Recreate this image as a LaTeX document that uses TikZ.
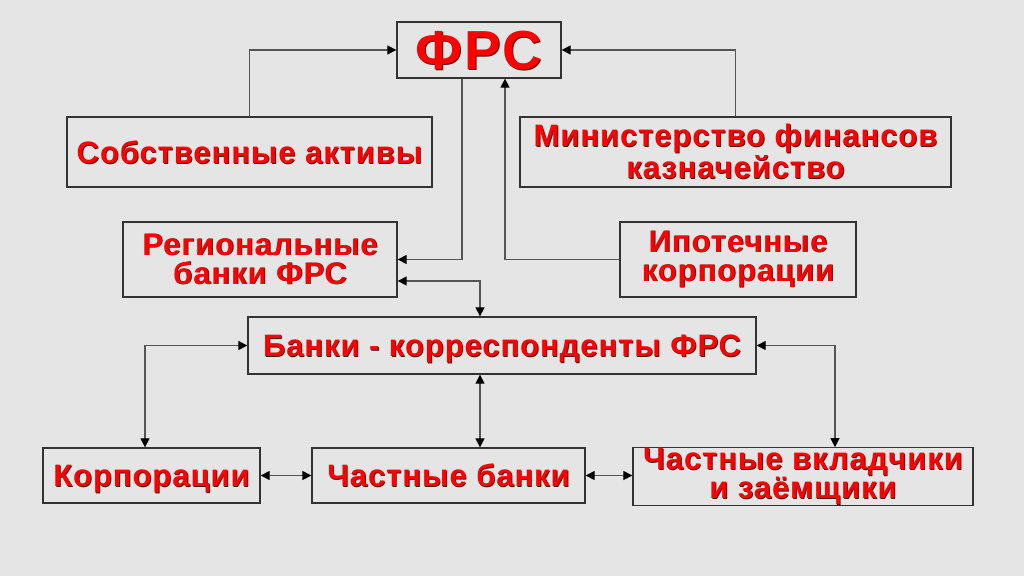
\documentclass[tikz,border=0pt]{standalone}
\usepackage{fontspec}
\setmainfont{Liberation Sans}[LetterSpace=3]
\usepackage{tikz}
\usetikzlibrary{arrows.meta}
\definecolor{bggray}{RGB}{229,229,229}
\definecolor{framec}{RGB}{51,51,51}
\definecolor{linec}{RGB}{85,85,85}
\definecolor{textred}{RGB}{255,0,0}
\definecolor{shadowc}{RGB}{80,20,20}
\newcommand{\sh}[1]{\rlap{\kern0.9pt\raisebox{-0.9pt}{\color{shadowc}#1}}#1}

\begin{document}
\begin{tikzpicture}[x=1pt, y=-1pt,
  box/.style={draw=framec, line width=1.3pt, fill=bggray, inner sep=0pt,
    align=center, text=textred, font={\fontsize{31}{29}\selectfont\bfseries}},
  oneline/.style={box, text depth=0pt},
  conn/.style={linec, line width=1.2pt, -{Triangle[length=9pt, width=9pt, color=black]}},
  dconn/.style={linec, line width=1.2pt,
    {Triangle[length=9pt, width=9pt, color=black]}-{Triangle[length=9pt, width=9pt, color=black]}}]

  % Background
  \fill[bggray] (0,0) rectangle (1024,576);

  % Top level
  \node[oneline, minimum width=164pt, minimum height=56pt,
    font={\fontsize{55}{55}\selectfont\bfseries\addfontfeature{LetterSpace=4}}]
    (frs) at (479,50) {\sh{ФРС}};
  \node[oneline, minimum width=365pt, minimum height=70pt] (own) at (249.5,152)
    {\sh{Собственные активы}};
  \node[box, minimum width=431pt, minimum height=70pt] (minfin) at (735.5,152)
    {\sh{Министерство финансов}\\\sh{казначейство}};

  % Second level
  \node[box, minimum width=274pt, minimum height=75pt] (reg) at (260,259.5)
    {\sh{Региональные}\\\sh{банки ФРС}};
  \node[box, minimum width=236pt, minimum height=75pt] (ipo) at (738,259.5)
    {\sh{Ипотечные}\\\sh{корпорации}};
  \node[oneline, minimum width=508pt, minimum height=57pt] (corr) at (502,345.5)
    {\sh{Банки - корреспонденты ФРС}};

  % Bottom row
  \node[oneline, minimum width=217pt, minimum height=55pt] (corp) at (151.5,475.5)
    {\sh{Корпорации}};
  \node[oneline, minimum width=273pt, minimum height=55pt] (pbank) at (448.5,475.5)
    {\sh{Частные банки}};
  \node[box, minimum width=340pt, minimum height=57pt] (dep) at (803,476.5)
    {\sh{Частные вкладчики}\\\sh{и заёмщики}};

  % Links to the FRS
  \draw[conn] (own.north) |- (frs.west);
  \draw[conn] (minfin.north) |- (frs.east);
  \draw[conn] ([xshift=-17pt]frs.south) |- (reg.east);
  \draw[conn] (ipo.west) -| ([xshift=26pt]frs.south);

  % Two-way links
  \draw[dconn] ([yshift=-21.5pt]reg.east) -| ([xshift=-22pt]corr.north);
  \draw[dconn] (corr.west) -| ([xshift=-6.5pt]corp.north);
  \draw[dconn] (corr.east) -| ([xshift=32pt]dep.north);
  \draw[dconn] ([xshift=-22pt]corr.south) -- ([xshift=-22pt]corr.south |- pbank.north);
  \draw[dconn] (corp.east) -- (pbank.west);
  \draw[dconn] (pbank.east) -- (pbank.east -| dep.west);
\end{tikzpicture}
\end{document}
